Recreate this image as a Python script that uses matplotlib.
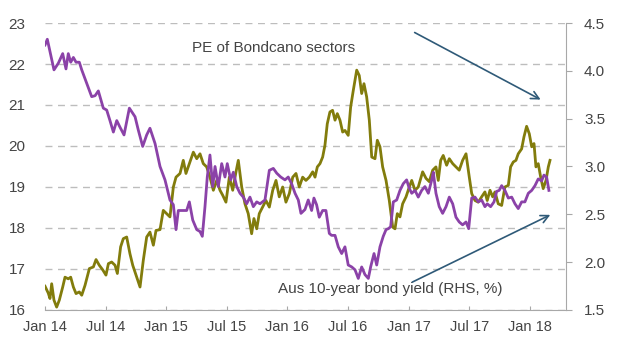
import matplotlib
matplotlib.use("Agg")
import matplotlib.pyplot as plt

plt.rcParams["font.family"] = ["Liberation Sans", "DejaVu Sans"]

# PE of Bondcano sectors (LHS), decimal years
pe_t = [2014.000, 2014.027, 2014.041, 2014.055, 2014.074, 2014.096, 2014.118, 2014.146,
        2014.165, 2014.192, 2014.212, 2014.234, 2014.256, 2014.283, 2014.303, 2014.330,
        2014.366, 2014.399, 2014.421, 2014.448, 2014.476, 2014.503, 2014.523, 2014.550,
        2014.578, 2014.597, 2014.624, 2014.646, 2014.674, 2014.701, 2014.724, 2014.757,
        2014.784, 2014.811, 2014.839, 2014.866, 2014.894, 2014.916, 2014.949, 2014.976,
        2015.004, 2015.031, 2015.059, 2015.081, 2015.114, 2015.141, 2015.163, 2015.182,
        2015.224, 2015.252, 2015.279, 2015.306, 2015.334, 2015.361, 2015.389, 2015.417,
        2015.444, 2015.466, 2015.493, 2015.521, 2015.549, 2015.576, 2015.595, 2015.623,
        2015.650, 2015.677, 2015.705, 2015.724, 2015.747, 2015.768, 2015.796, 2015.823,
        2015.851, 2015.879, 2015.906, 2015.933, 2015.961, 2015.988, 2016.016, 2016.044,
        2016.071, 2016.098, 2016.126, 2016.153, 2016.181, 2016.209, 2016.228, 2016.247,
        2016.269, 2016.291, 2016.310, 2016.329, 2016.351, 2016.373, 2016.393, 2016.412,
        2016.434, 2016.456, 2016.475, 2016.502, 2016.522, 2016.544, 2016.572, 2016.593,
        2016.613, 2016.632, 2016.654, 2016.676, 2016.696, 2016.723, 2016.742, 2016.764,
        2016.786, 2016.814, 2016.841, 2016.869, 2016.888, 2016.907, 2016.929, 2016.951,
        2016.979, 2017.006, 2017.026, 2017.053, 2017.080, 2017.116, 2017.144, 2017.171,
        2017.199, 2017.226, 2017.245, 2017.265, 2017.286, 2017.314, 2017.336, 2017.364,
        2017.391, 2017.418, 2017.446, 2017.474, 2017.501, 2017.521, 2017.548, 2017.575,
        2017.603, 2017.630, 2017.649, 2017.672, 2017.694, 2017.713, 2017.740, 2017.768,
        2017.795, 2017.823, 2017.842, 2017.864, 2017.886, 2017.905, 2017.933, 2017.952,
        2017.974, 2017.996, 2018.016, 2018.035, 2018.051, 2018.070, 2018.090, 2018.111,
        2018.134, 2018.153, 2018.167]
pe = [16.58, 16.41, 16.28, 16.64, 16.24, 16.07, 16.24, 16.56,
      16.80, 16.76, 16.80, 16.56, 16.40, 16.44, 16.36, 16.60,
      17.01, 17.05, 17.23, 17.09, 16.98, 16.85, 17.13, 17.17,
      17.09, 16.89, 17.54, 17.74, 17.78, 17.37, 17.09, 16.80,
      16.56, 17.21, 17.78, 17.90, 17.58, 17.94, 17.96, 18.43,
      18.35, 18.27, 19.00, 19.24, 19.33, 19.65, 19.33, 19.49,
      19.85, 19.69, 19.81, 19.57, 19.49, 19.24, 18.92, 19.16,
      18.92, 18.80, 18.63, 19.24, 18.92, 19.37, 19.65, 19.00,
      18.59, 18.35, 17.86, 18.23, 17.98, 18.35, 18.51, 18.67,
      18.51, 18.92, 19.16, 18.76, 19.00, 18.63, 18.84, 19.24,
      19.33, 19.00, 19.24, 19.16, 19.24, 19.37, 19.24, 19.49,
      19.57, 19.73, 20.02, 20.54, 20.83, 20.87, 20.63, 20.79,
      20.63, 20.34, 20.38, 20.26, 20.95, 21.36, 21.85, 21.72,
      21.28, 21.52, 21.20, 20.63, 19.73, 19.69, 20.14, 19.98,
      19.49, 19.16, 18.67, 18.02, 17.98, 18.35, 18.27, 18.59,
      18.76, 19.00, 19.16, 18.92, 19.00, 19.37, 19.21, 19.13,
      19.41, 19.49, 19.16, 19.65, 19.77, 19.53, 19.69, 19.57,
      19.49, 19.41, 19.65, 19.81, 19.24, 18.84, 18.67, 18.63,
      18.76, 18.88, 18.67, 18.92, 18.76, 18.88, 18.59, 18.55,
      19.00, 19.04, 19.49, 19.61, 19.65, 19.81, 19.93, 20.22,
      20.48, 20.30, 19.98, 20.06, 19.49, 19.57, 19.24, 18.96,
      19.16, 19.49, 19.65]

# Aus 10-year bond yield (RHS, %), decimal years
bond_t = [2014.000, 2014.019, 2014.074, 2014.110, 2014.146, 2014.173, 2014.192, 2014.212,
          2014.234, 2014.256, 2014.283, 2014.303, 2014.344, 2014.385, 2014.413, 2014.440,
          2014.481, 2014.509, 2014.536, 2014.564, 2014.592, 2014.619, 2014.652, 2014.696,
          2014.743, 2014.770, 2014.806, 2014.839, 2014.866, 2014.908, 2014.949, 2014.990,
          2015.031, 2015.059, 2015.081, 2015.100, 2015.141, 2015.169, 2015.191, 2015.219,
          2015.252, 2015.279, 2015.298, 2015.320, 2015.339, 2015.361, 2015.384, 2015.403,
          2015.430, 2015.458, 2015.485, 2015.504, 2015.532, 2015.554, 2015.582, 2015.609,
          2015.636, 2015.664, 2015.691, 2015.719, 2015.747, 2015.774, 2015.815, 2015.851,
          2015.884, 2015.912, 2015.945, 2015.980, 2016.007, 2016.035, 2016.063, 2016.090,
          2016.112, 2016.145, 2016.172, 2016.200, 2016.219, 2016.241, 2016.263, 2016.291,
          2016.318, 2016.346, 2016.365, 2016.393, 2016.420, 2016.448, 2016.475, 2016.502,
          2016.531, 2016.558, 2016.585, 2016.613, 2016.640, 2016.668, 2016.687, 2016.715,
          2016.737, 2016.764, 2016.791, 2016.814, 2016.833, 2016.852, 2016.874, 2016.902,
          2016.929, 2016.956, 2016.984, 2017.006, 2017.026, 2017.053, 2017.080, 2017.108,
          2017.135, 2017.163, 2017.191, 2017.204, 2017.226, 2017.253, 2017.281, 2017.309,
          2017.336, 2017.364, 2017.391, 2017.418, 2017.446, 2017.474, 2017.496, 2017.521,
          2017.548, 2017.575, 2017.603, 2017.630, 2017.649, 2017.677, 2017.705, 2017.727,
          2017.748, 2017.768, 2017.795, 2017.823, 2017.851, 2017.878, 2017.905, 2017.933,
          2017.960, 2017.988, 2018.016, 2018.043, 2018.070, 2018.098, 2018.117, 2018.139,
          2018.158]
bond = [4.27, 4.33, 4.01, 4.08, 4.18, 4.02, 4.18, 4.09,
        4.14, 4.09, 4.09, 4.01, 3.87, 3.73, 3.74, 3.79,
        3.61, 3.59, 3.48, 3.36, 3.48, 3.41, 3.33, 3.61,
        3.52, 3.38, 3.21, 3.33, 3.40, 3.24, 3.00, 2.86,
        2.65, 2.60, 2.34, 2.54, 2.54, 2.54, 2.63, 2.44,
        2.34, 2.32, 2.27, 2.58, 2.89, 3.12, 2.79, 3.00,
        2.79, 3.03, 2.89, 3.03, 2.86, 2.94, 2.79, 2.72,
        2.68, 2.61, 2.68, 2.58, 2.63, 2.61, 2.65, 2.96,
        2.98, 2.93, 2.89, 2.86, 2.89, 2.82, 2.72, 2.65,
        2.51, 2.55, 2.65, 2.54, 2.67, 2.60, 2.47, 2.54,
        2.54, 2.30, 2.28, 2.28, 2.16, 2.09, 2.16, 1.97,
        1.95, 1.92, 1.83, 1.95, 1.87, 1.83, 1.95, 2.09,
        1.97, 2.16, 2.27, 2.34, 2.35, 2.37, 2.63, 2.65,
        2.75, 2.82, 2.86, 2.77, 2.72, 2.75, 2.68, 2.75,
        2.79, 2.72, 2.86, 2.94, 2.72, 2.58, 2.51, 2.58,
        2.68, 2.61, 2.47, 2.42, 2.39, 2.42, 2.35, 2.67,
        2.68, 2.63, 2.65, 2.58, 2.61, 2.58, 2.63, 2.74,
        2.75, 2.80, 2.75, 2.67, 2.68, 2.61, 2.56, 2.63,
        2.63, 2.72, 2.75, 2.80, 2.87, 2.85, 2.91, 2.89,
        2.75]

xtick_pos = [2014.0, 2014.5, 2015.0, 2015.5, 2016.0, 2016.5, 2017.0, 2017.5, 2018.0]
xtick_labels = ["Jan 14", "Jul 14", "Jan 15", "Jul 15", "Jan 16", "Jul 16",
                "Jan 17", "Jul 17", "Jan 18"]
left_ticks = [16, 17, 18, 19, 20, 21, 22, 23]
right_ticks = [1.5, 2.0, 2.5, 3.0, 3.5, 4.0, 4.5]

OLIVE = "#827c0c"
PURPLE = "#8b42a8"
TEXT = "#444444"
SPINE = "#a8a8a8"
ARROW = "#2f5a78"

fig = plt.figure(figsize=(6.2, 3.64), dpi=100)
ax = fig.add_axes([0.0726, 0.1484, 0.8403, 0.7884])
ax2 = ax.twinx()

ax.plot(pe_t, pe, color=OLIVE, lw=2.0, zorder=3)
ax2.plot(bond_t, bond, color=PURPLE, lw=2.0, zorder=3)

ax.set_xlim(2014.0, 2018.299)
ax.set_ylim(16, 23)
ax2.set_ylim(1.5, 4.5)

ax.set_yticks(left_ticks)
ax.set_yticklabels([str(v) for v in left_ticks])
ax2.set_yticks(right_ticks)
ax2.set_yticklabels([f"{v:.1f}" for v in right_ticks])
ax.set_xticks(xtick_pos)
ax.set_xticklabels(xtick_labels)

ax.yaxis.grid(True, color="#bdbdbd", linestyle=(0, (5, 4)), lw=1.0)
ax.set_axisbelow(True)

for a in (ax, ax2):
    for s in ("left", "top"):
        a.spines[s].set_visible(False)
    a.spines["bottom"].set_color(SPINE)
    a.spines["right"].set_color(SPINE)
ax.spines["right"].set_visible(False)
ax2.spines["bottom"].set_visible(False)

ax.tick_params(axis="y", length=0, labelsize=11, labelcolor=TEXT, pad=14)
ax.tick_params(axis="x", direction="in", length=3, color=SPINE, labelsize=10.5,
               labelcolor=TEXT, pad=7)
ax2.tick_params(axis="y", direction="out", length=4, color=SPINE, labelsize=11,
                labelcolor=TEXT, pad=9)

ax.text(2015.21, 22.4, "PE of Bondcano sectors", fontsize=11, color=TEXT,
        va="center", ha="left")
ax.text(2015.92, 16.52, "Aus 10-year bond yield (RHS, %)", fontsize=11, color=TEXT,
        va="center", ha="left")

arrow = dict(arrowstyle="->", color=ARROW, lw=1.2, mutation_scale=14)
ax.annotate("", xy=(2018.11, 21.1), xytext=(2017.03, 22.8),
            arrowprops=arrow)
ax.annotate("", xy=(2018.19, 18.35), xytext=(2017.01, 16.65),
            arrowprops=arrow)

fig.savefig("out.png", dpi=100)
